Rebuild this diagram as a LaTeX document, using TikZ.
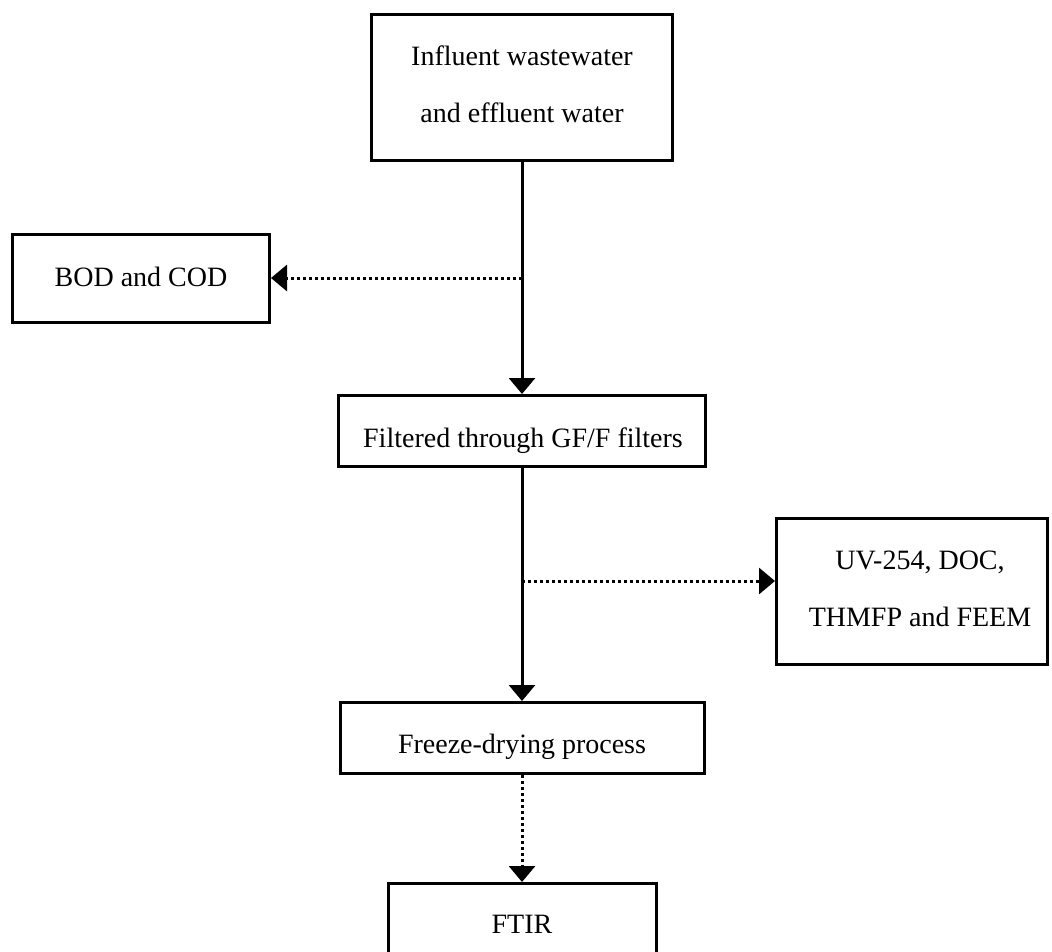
\documentclass[tikz,border=0pt]{standalone}
\usepackage{fontspec}
\setmainfont{Liberation Serif}
\usetikzlibrary{arrows.meta}

\tikzset{
  box/.style={draw=black, line width=3pt, fill=white, inner sep=0pt},
  lbl/.style={anchor=base, inner sep=0pt, font=\fontsize{28}{57}\selectfont},
  tip/.style={-{Triangle[length=16pt,width=26pt]}},
  solidlink/.style={line width=3pt, tip},
  dotlink/.style={line width=3pt, dash pattern=on 3.3pt off 2.7pt, tip}
}

\begin{document}
\begin{tikzpicture}[x=1pt, y=-1pt]
  \useasboundingbox (0,0) rectangle (1052,951);

  % process boxes
  \node[box, minimum width=301pt, minimum height=146pt] (src)  at (522,87.5) {};
  \node[box, minimum width=257pt, minimum height=88pt]  (bod)  at (141,278.5) {};
  \node[box, minimum width=367pt, minimum height=71pt]  (filt) at (522,431) {};
  \node[box, minimum width=271pt, minimum height=146pt] (uv)   at (912,591.5) {};
  \node[box, minimum width=364pt, minimum height=71pt]  (frz)  at (522,738) {};
  \node[box, minimum width=268pt, minimum height=73pt]  (ftir) at (522,920) {};

  % box texts
  \node[lbl] (srcA)  at (522,65)  {Influent wastewater};
  \node[lbl] (srcB)  at (522,122) {and effluent water};
  \node[lbl] (bodT)  at (141,286) {BOD and COD};
  \node[lbl] (filtT) at (523,447) {Filtered through GF/F filters};
  \node[lbl] (uvA)   at (920,569) {UV-254, DOC,};
  \node[lbl] (uvB)   at (920,626) {THMFP and FEEM};
  \node[lbl] (frzT)  at (522,753) {Freeze-drying process};
  \node[lbl] (ftirT) at (522,933) {FTIR};

  % branch points on the main line
  \coordinate (br1) at (522,278);
  \coordinate (br2) at (522,581);

  % connectors
  \draw[solidlink] (src.south) -- (filt.north);
  \draw[dotlink] (br1) -- (br1 -| bod.east);
  \draw[solidlink] (filt.south) -- (frz.north);
  \draw[dotlink] (br2) -- (br2 -| uv.west);
  \draw[dotlink] (frz.south) -- (ftir.north);
\end{tikzpicture}
\end{document}
